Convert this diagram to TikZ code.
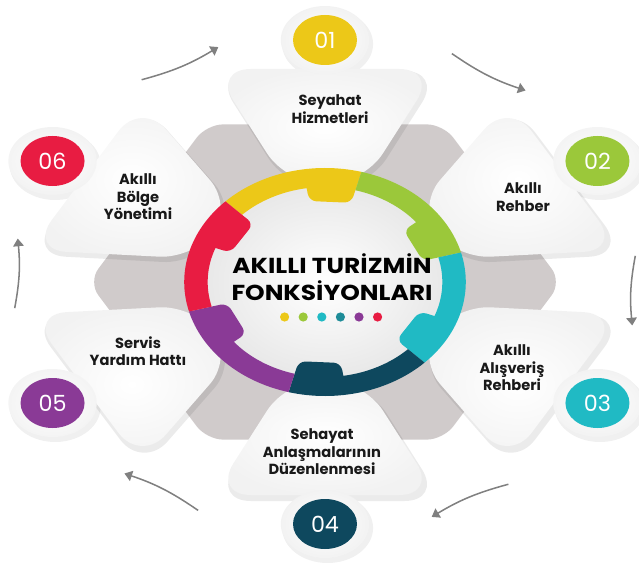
\documentclass[tikz,border=0pt]{standalone}
\usepackage{fontspec}
\setmainfont{Poppins}
\usetikzlibrary{arrows.meta,shapes.geometric}

\definecolor{cyel}{RGB}{236,200,24}
\definecolor{cgrn}{RGB}{155,200,58}
\definecolor{ctea}{RGB}{32,186,196}
\definecolor{cdrk}{RGB}{14,72,94}
\definecolor{cpur}{RGB}{138,58,150}
\definecolor{cred}{RGB}{232,28,66}
\definecolor{cdot}{RGB}{30,140,152}
\definecolor{hexg}{RGB}{208,203,203}
\definecolor{arrg}{RGB}{128,128,128}

\begin{document}
\begin{tikzpicture}[x=0.03cm, y=-0.03cm,
  petal/.style={inner color=white, outer color=black!5, rounded corners=32},
  badge/.style={ellipse, minimum width=1.92cm, minimum height=1.5cm, inner sep=0pt, text=white, font=\fontsize{19}{19}\selectfont},
  lbl/.style={align=center, text=black!90, font=\bfseries\fontsize{12.5}{15}\selectfont},
  title/.style={align=center, font=\bfseries\fontsize{18.5}{21.5}\selectfont},
  flow/.style={draw=arrg, line width=1.3pt, -{Triangle[length=6.5pt, width=9pt]}}
]
\useasboundingbox (0,0) rectangle (639,565);

% gray hexagon and the six petals
\begin{scope}[shift={(325,282)}, yscale=-1, xscale=1.3]
  \fill[hexg, rounded corners=14] (0:182) -- (60:182) -- (120:182) -- (180:182) -- (240:182) -- (300:182) -- cycle;
  \foreach \a in {90,30,-30,-90,-150,150}{
    \begin{scope}[shift={(2,-4)}, rotate=90-\a]
      \fill[black, opacity=0.08, rounded corners=32] (-88,215) -- (88,215) -- (30,96) -- (-30,96) -- cycle;
      \fill[black, opacity=0.06] (0,242) circle (35);
    \end{scope}
    \begin{scope}[rotate=90-\a]
      \shade[petal] (-86,213) -- (86,213) -- (29,97) -- (-29,97) -- cycle;
      \shade[inner color=white, outer color=black!5] (0,242) circle (34);
    \end{scope}
  }
\end{scope}

% ring
\begin{scope}[shift={(325,282)}, yscale=-1, xscale=1.235]
  \fill[white] (0,0) circle (97);
  \fill[inner color=white, outer color=black!9] (0,0) circle (97);
  \foreach \a/\col in {90/cyel, 30/cgrn, -30/ctea, -90/cdrk, -150/cpur, 150/cred}{
    \begin{scope}[rotate=90-\a]
      \fill[\col] (75:114) arc[start angle=75, end angle=135, radius=114]
        -- (135:95) arc[start angle=135, end angle=99, radius=95]
        [rounded corners=6] -- (99:82) -- (75:82) -- (75:95) [sharp corners] -- cycle;
    \end{scope}
  }
\end{scope}

% number badges
\begin{scope}[shift={(325,282)}, yscale=-1, xscale=1.3]
  \node[badge, fill=cyel] (b01) at (90:242) {01};
  \node[badge, fill=cgrn] (b02) at (30:242) {02};
  \node[badge, fill=ctea] (b03) at (-30:242) {03};
  \node[badge, fill=cdrk] (b04) at (-90:242) {04};
  \node[badge, fill=cpur] (b05) at (-150:242) {05};
  \node[badge, fill=cred] (b06) at (150:242) {06};
\end{scope}

% labels
\node[lbl] (l01) at (330,109) {Seyahat\\Hizmetleri};
\node[lbl] (l02) at (523,197) {Akıllı\\Rehber};
\node[lbl] (l03) at (512,368) {Akıllı\\Alışveriş\\Rehberi};
\node[lbl] (l04) at (322,452) {Sehayat\\Anlaşmalarının\\Düzenlenmesi};
\node[lbl] (l05) at (138,351) {Servis\\Yardım Hattı};
\node[lbl] (l06) at (138,197) {Akıllı\\Bölge\\Yönetimi};

% title and dots
\node[title] (ttl) at (332,281) {\scalebox{1.15}[1]{\begin{tabular}{@{}c@{}}AKILLI TURİZMİN\\FONKSİYONLARI\end{tabular}}};
\foreach \c [count=\i] in {cyel,cgrn,ctea,cdot,cpur,cred}
  \fill[\c] (266+18.6*\i,317) circle (4.6);

% arrows round the outside
\begin{scope}[shift={(325,282)}, yscale=-1]
  \foreach \m [count=\i] in {120,60,0,-60,-120,180}{
    \coordinate (s\i) at (\m+6:312 and 250);
    \coordinate (e\i) at (\m-10:312 and 250);
    \draw[flow] (s\i) to[bend left=8] (e\i);
  }
\end{scope}
\end{tikzpicture}
\end{document}
